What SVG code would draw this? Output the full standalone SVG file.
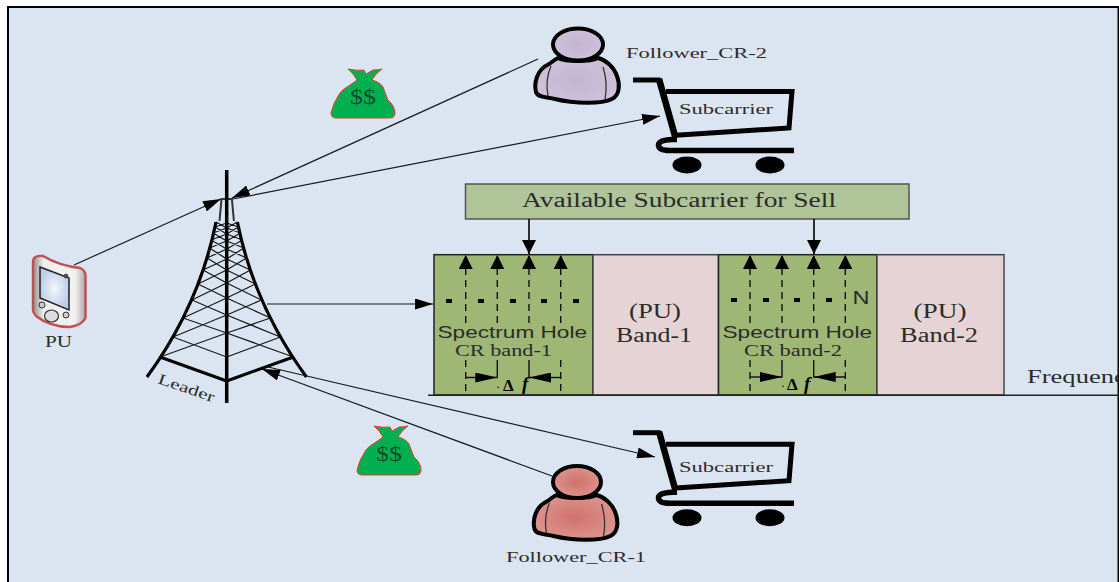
<svg xmlns="http://www.w3.org/2000/svg" width="1119" height="582" viewBox="0 0 1119 582">
<style>
text{font-family:"Liberation Serif","Times New Roman",serif;fill:#2b2b2b}
.sans{font-family:"Liberation Sans",Arial,sans-serif}
.thin{fill:none;stroke:#1a1a1a;stroke-width:1.2}
.lat{fill:none;stroke:#1a1a1a;stroke-width:1.3}
.dash{fill:none;stroke:#111;stroke-width:1.4;stroke-dasharray:7 5}
.solid{fill:none;stroke:#111;stroke-width:1.4}
.green{fill:#9eb775;stroke:#222;stroke-width:1.5}
.pink{fill:#e6d3d6;stroke:#444;stroke-width:1.5}
.cart{fill:none;stroke:#000;stroke-width:5}
.bag{fill:#00b050;stroke:#e8402c;stroke-width:1}
.person{stroke:#000;stroke-width:4}
.fold{fill:none;stroke:#333;stroke-width:1.3}
.dot{fill:#000}
.df{font-weight:bold;fill:#000}
.mon{fill:#0a4a2a}
</style>
<defs>
<marker id="ah" markerUnits="userSpaceOnUse" markerWidth="19" markerHeight="11" refX="18" refY="5.5" orient="auto"><path d="M0,0L18,5.500L0,11z" fill="#000"/></marker>
<marker id="up" markerUnits="userSpaceOnUse" markerWidth="15" markerHeight="14" refX="14" refY="7" orient="auto"><path d="M0,0L14,7L0,14z" fill="#000"/></marker>
<marker id="dh" markerUnits="userSpaceOnUse" markerWidth="23" markerHeight="10" refX="22" refY="5" orient="auto"><path d="M0,0L22,5L0,10z" fill="#000"/></marker>
<radialGradient id="pg2"><stop offset="0" stop-color="#c4b3d1"/><stop offset="1" stop-color="#cdc2d9"/></radialGradient>
<radialGradient id="pg1"><stop offset="0" stop-color="#cf726b"/><stop offset="1" stop-color="#dc928c"/></radialGradient>
<linearGradient id="phone" x1="0" x2="1" y1="0" y2="0"><stop offset="0" stop-color="#8d8d8d"/><stop offset=".2" stop-color="#eeeeee"/><stop offset=".8" stop-color="#f2f2f2"/><stop offset="1" stop-color="#a9a9a9"/></linearGradient>
<radialGradient id="screen"><stop offset="0" stop-color="#f4f7fc"/><stop offset="1" stop-color="#bccde8"/></radialGradient>
<g id="half">
<path class="lat" d="M160,357L226.700,333M173,337L226.700,357M173,337L226.700,315M183,318L226.700,333M183,318L226.700,298M192,300L226.700,315M192,300L226.700,283M198,284L226.700,298M198,284L226.700,270M203,270L226.700,283M203,270L226.700,259M207,258L226.700,270M207,258L226.700,249M209.500,248L226.700,259M209.500,248L226.700,241M211,240L226.700,249M211,240L226.700,234M213,233L226.700,241M213,233L226.700,228M215,227L226.700,234M215,227L226.700,223M216,222L226.700,228"/>
<path d="M216,222C208,262 190,318 147,377" fill="none" stroke="#000" stroke-width="3.200"/>
<path d="M160,357L226.700,381" fill="none" stroke="#000" stroke-width="3"/>
<path d="M219.500,221L221.500,199H226.700" fill="none" stroke="#333" stroke-width="2"/>
</g>
<g id="cartshape">
<path class="cart" d="M633,80H660.500"/>
<path fill="none" stroke="#000" stroke-width="6.500" d="M659,79L675,136"/>
<path class="cart" d="M672,135.500L789,128L792,91.500H666"/>
<path fill="none" stroke="#000" stroke-width="5.500" d="M677,139.500H672Q658,140 658.500,145.500Q659,150.500 670,150.500H794"/>
<ellipse cx="687" cy="165" rx="14.500" ry="8.500"/>
<ellipse cx="770" cy="165" rx="14.500" ry="8.500"/>
</g>
<path id="bagshape" class="bag" d="M348,69Q358,71 364,70L366,74L373,70Q378,70 382,69Q376,73 372,80Q380,82 383,87Q386,95 388,100Q395,106 395,113Q395,118 390,118L336,118Q331,118 331,113Q333,103 340,93Q343,89 347,87Q353,83 357,80Q354,74 348,69z"/>
<path id="body" d="M549,64C536,70 534,84 536,92C538,98 547,97 555,99C575,104 602,104 612,99C620,95 620,84 617,76C614,67 606,60 598,58C590,62 566,62 558,58C554,60 552,62 549,64z"/>
</defs>

<rect width="1119" height="582" fill="#fff"/>
<rect id="panel" x="8" y="7" width="1110.500" height="585" fill="#dbe5f1" stroke="#000" stroke-width="2"/>

<g id="tower">
<use href="#half"/>
<use href="#half" transform="translate(453.400,0) scale(-1,1)"/>
<path d="M226.700,170V403" stroke="#000" stroke-width="3.500" fill="none"/>
<text transform="translate(157,383) rotate(19)" font-size="15" textLength="59" lengthAdjust="spacingAndGlyphs">Leader</text>
</g>

<g id="pu">
<path d="M33,262Q33,255 43,256Q60,266 80,268Q85,270 85.500,275V318Q82,325 70,327Q50,327 36,316Q33,313 33,310z" fill="url(#phone)" stroke="#c0504d" stroke-width="2.400"/>
<path d="M40,267L69,278V310L40,298z" fill="url(#screen)" stroke="#222" stroke-width="1.500"/>
<ellipse cx="51.500" cy="316" rx="7" ry="6" fill="#ddd" stroke="#333" stroke-width="1.200"/>
<circle cx="42" cy="305" r="3" fill="#ccc" stroke="#333"/>
<circle cx="66" cy="315" r="3" fill="#ccc" stroke="#333"/>
<circle cx="66" cy="276" r="2" fill="#555" stroke="#222" stroke-width=".6"/>
<text x="45" y="347" font-size="16" textLength="27" lengthAdjust="spacingAndGlyphs">PU</text>
</g>

<g id="hole1">
<rect class="green" x="434" y="254.700" width="159" height="140.300"/>
<text class="sans" x="437.500" y="338" font-size="17" textLength="149.500" lengthAdjust="spacingAndGlyphs">Spectrum Hole</text>
<text x="455" y="356" font-size="16" textLength="97" lengthAdjust="spacingAndGlyphs">CR band-1</text>
<path class="dot" d="M446,299h6v4h-6zM478,299h6v4h-6zM510,299h6v4h-6zM541,299h6v4h-6zM573,299h6v4h-6z"/>
<path class="dash" d="M465.700,323V255" marker-end="url(#up)"/>
<path class="dash" d="M497.300,323V255" marker-end="url(#up)"/>
<path class="dash" d="M529,323V255" marker-end="url(#up)"/>
<path class="dash" d="M560.700,323V255" marker-end="url(#up)"/>
<path class="dash" d="M465.700,360V395M560.700,360V395"/>
<path class="solid" d="M497.300,360V378M529,360V378"/>
<path class="solid" d="M465.700,377.500H497.300" marker-end="url(#dh)"/>
<path class="solid" d="M560.700,377.500H529" marker-end="url(#dh)"/>
<text class="df" y="390.500" font-size="17"><tspan x="496" font-weight="normal" font-size="12">·</tspan><tspan x="503">Δ</tspan></text>
<text class="df" x="522" y="389.500" font-size="19" font-style="italic">f</text>
</g>

<g id="band1">
<rect class="pink" x="593" y="254.700" width="125.500" height="140.300"/>
<text x="655" y="318" font-size="20" text-anchor="middle" textLength="52" lengthAdjust="spacingAndGlyphs">(PU)</text>
<text x="616" y="341.500" font-size="20" textLength="76" lengthAdjust="spacingAndGlyphs">Band-1</text>
</g>

<g id="hole2">
<rect class="green" x="718.500" y="254.700" width="158.500" height="140.300"/>
<text class="sans" x="722.500" y="338" font-size="17" textLength="149.500" lengthAdjust="spacingAndGlyphs">Spectrum Hole</text>
<text x="744" y="356" font-size="16" textLength="98" lengthAdjust="spacingAndGlyphs">CR band-2</text>
<path class="dot" d="M731,298h6v4h-6zM763,298h6v4h-6zM794,298h6v4h-6zM826,298h6v4h-6z"/>
<path class="dash" d="M750,323V255" marker-end="url(#up)"/>
<path class="dash" d="M782,323V255" marker-end="url(#up)"/>
<path class="dash" d="M813.700,323V255" marker-end="url(#up)"/>
<path class="dash" d="M845.300,323V255" marker-end="url(#up)"/>
<path class="dash" d="M750,360V395M845.300,360V395"/>
<path class="solid" d="M782,360V377.500M813.700,360V377.500"/>
<path class="solid" d="M750,377H782" marker-end="url(#dh)"/>
<path class="solid" d="M845.300,377H813.700" marker-end="url(#dh)"/>
<text class="sans" x="852.500" y="304" font-size="18" textLength="17" lengthAdjust="spacingAndGlyphs">N</text>
<text class="df" y="390" font-size="17"><tspan x="781" font-weight="normal" font-size="12">·</tspan><tspan x="787">Δ</tspan></text>
<text class="df" x="804" y="389.500" font-size="19" font-style="italic">f</text>
</g>

<g id="band2">
<rect class="pink" x="877" y="254.700" width="127" height="140.300"/>
<text x="940" y="318" font-size="20" text-anchor="middle" textLength="53" lengthAdjust="spacingAndGlyphs">(PU)</text>
<text x="900" y="341.500" font-size="20" textLength="78" lengthAdjust="spacingAndGlyphs">Band-2</text>
</g>

<g id="axis">
<path d="M428,395.300H1119" stroke="#222" stroke-width="1.600" fill="none"/>
<text x="1027" y="382.700" font-size="19" textLength="112" lengthAdjust="spacingAndGlyphs">Frequency</text>
</g>

<g id="available">
<rect x="465.500" y="184" width="443.500" height="35" fill="#afc499" stroke="#555" stroke-width="1.500"/>
<text x="522" y="207" font-size="20" textLength="314" lengthAdjust="spacingAndGlyphs">Available Subcarrier for Sell</text>
</g>

<g id="follower2">
<use href="#body" fill="url(#pg2)" class="person"/>
<path class="fold" d="M551,66Q545,80 548,96M603,67Q608,82 605,100"/>
<ellipse cx="578" cy="44.500" rx="25" ry="16" fill="url(#pg2)" class="person"/>
<text x="626" y="58" font-size="15" textLength="141" lengthAdjust="spacingAndGlyphs">Follower_CR-2</text>
</g>
<g id="follower1">
<use href="#body" transform="translate(-1.500,437)" fill="url(#pg1)" class="person"/>
<path class="fold" d="M549.500,503Q543.500,517 546.500,533M601.500,504Q606.500,519 603.500,537"/>
<ellipse cx="577" cy="482" rx="24" ry="16" fill="url(#pg1)" class="person"/>
<text x="506" y="562" font-size="15" textLength="140" lengthAdjust="spacingAndGlyphs">Follower_CR-1</text>
</g>

<g id="cart2"><use href="#cartshape"/><text x="679" y="114" font-size="15" textLength="94" lengthAdjust="spacingAndGlyphs">Subcarrier</text></g>
<g id="cart1"><use href="#cartshape" transform="translate(0,352.700)"/><text x="679" y="472" font-size="15" textLength="94" lengthAdjust="spacingAndGlyphs">Subcarrier</text></g>

<g id="bag2"><use href="#bagshape"/><text class="mon" x="350" y="104" font-size="21" textLength="26" lengthAdjust="spacingAndGlyphs">$$</text></g>
<g id="bag1"><use href="#bagshape" transform="translate(26,357)"/><text class="mon" x="376" y="461" font-size="21" textLength="26" lengthAdjust="spacingAndGlyphs">$$</text></g>

<g id="connectors">
<path class="thin" d="M74,265L221,199" marker-end="url(#ah)"/>
<path class="thin" d="M538,59L232,198" marker-end="url(#ah)"/>
<path class="thin" d="M233,199L660,116" marker-end="url(#ah)"/>
<path class="thin" d="M267,304L433,304" marker-end="url(#ah)"/>
<path class="thin" d="M552,476L262,369" marker-end="url(#ah)"/>
<path class="thin" d="M268,367L655,457" marker-end="url(#ah)"/>
<path d="M529,219V254" fill="none" stroke="#000" stroke-width="1.600" marker-end="url(#up)"/>
<path d="M814,219V254" fill="none" stroke="#000" stroke-width="1.600" marker-end="url(#up)"/>
</g>
</svg>
